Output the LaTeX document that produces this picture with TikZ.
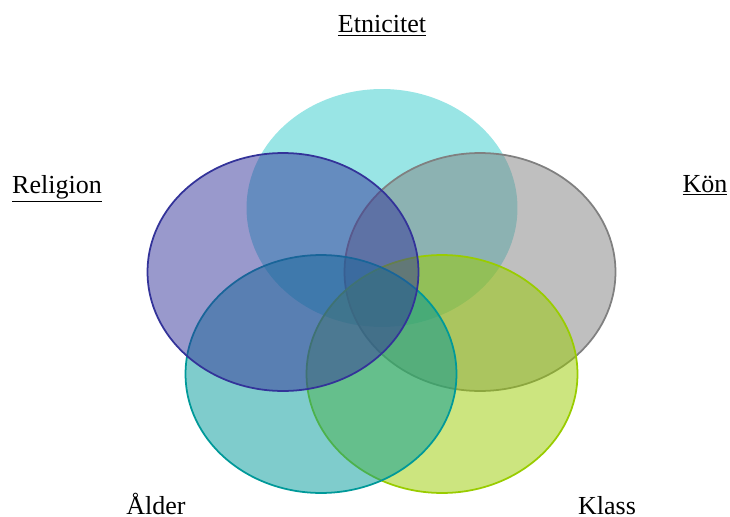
\documentclass[tikz,border=0pt]{standalone}
\usepackage{fontspec}
\setmainfont{Liberation Serif}
\usepackage{tikz}
\usetikzlibrary{shapes.geometric}
\usepackage{xcolor}
\definecolor{etncolor}{HTML}{33CCCC}
\definecolor{relcolor}{HTML}{333399}
\definecolor{koncolor}{HTML}{808080}
\definecolor{aldcolor}{HTML}{009999}
\definecolor{klacolor}{HTML}{99CC00}
\tikzset{
  set/.style   = {ellipse, minimum width=5.42cm, minimum height=4.76cm,
                  inner sep=0pt, fill opacity=0.5, line width=1pt},
  label/.style = {anchor=base, inner sep=0pt, font=\fontsize{14.8}{17}\selectfont},
}

\begin{document}
\begin{tikzpicture}[x=0.02cm, y=-0.02cm]
\useasboundingbox (0,0) rectangle (730,517);

% the five sets, bottom one first
\node[set, fill=etncolor] (etn) at (382,208) {};
\node[set, fill=koncolor, draw=koncolor] (kon) at (480,272) {};
\node[set, fill=klacolor, draw=klacolor] (kla) at (442,374) {};
\node[set, fill=aldcolor, draw=aldcolor] (ald) at (321,374) {};
\node[set, fill=relcolor, draw=relcolor] (rel) at (283,272) {};

% labels
\node[label] (etnlabel) at (382,33) {\underline{Etnicitet}};
\node[label] (rellabel) at (57,193) {\underline{Religion}};
\node[label] (konlabel) at (705,192) {\underline{Kön}};
\node[label] (aldlabel) at (156,514) {Ålder};
\node[label] (klalabel) at (607,514) {Klass};

\end{tikzpicture}
\end{document}
